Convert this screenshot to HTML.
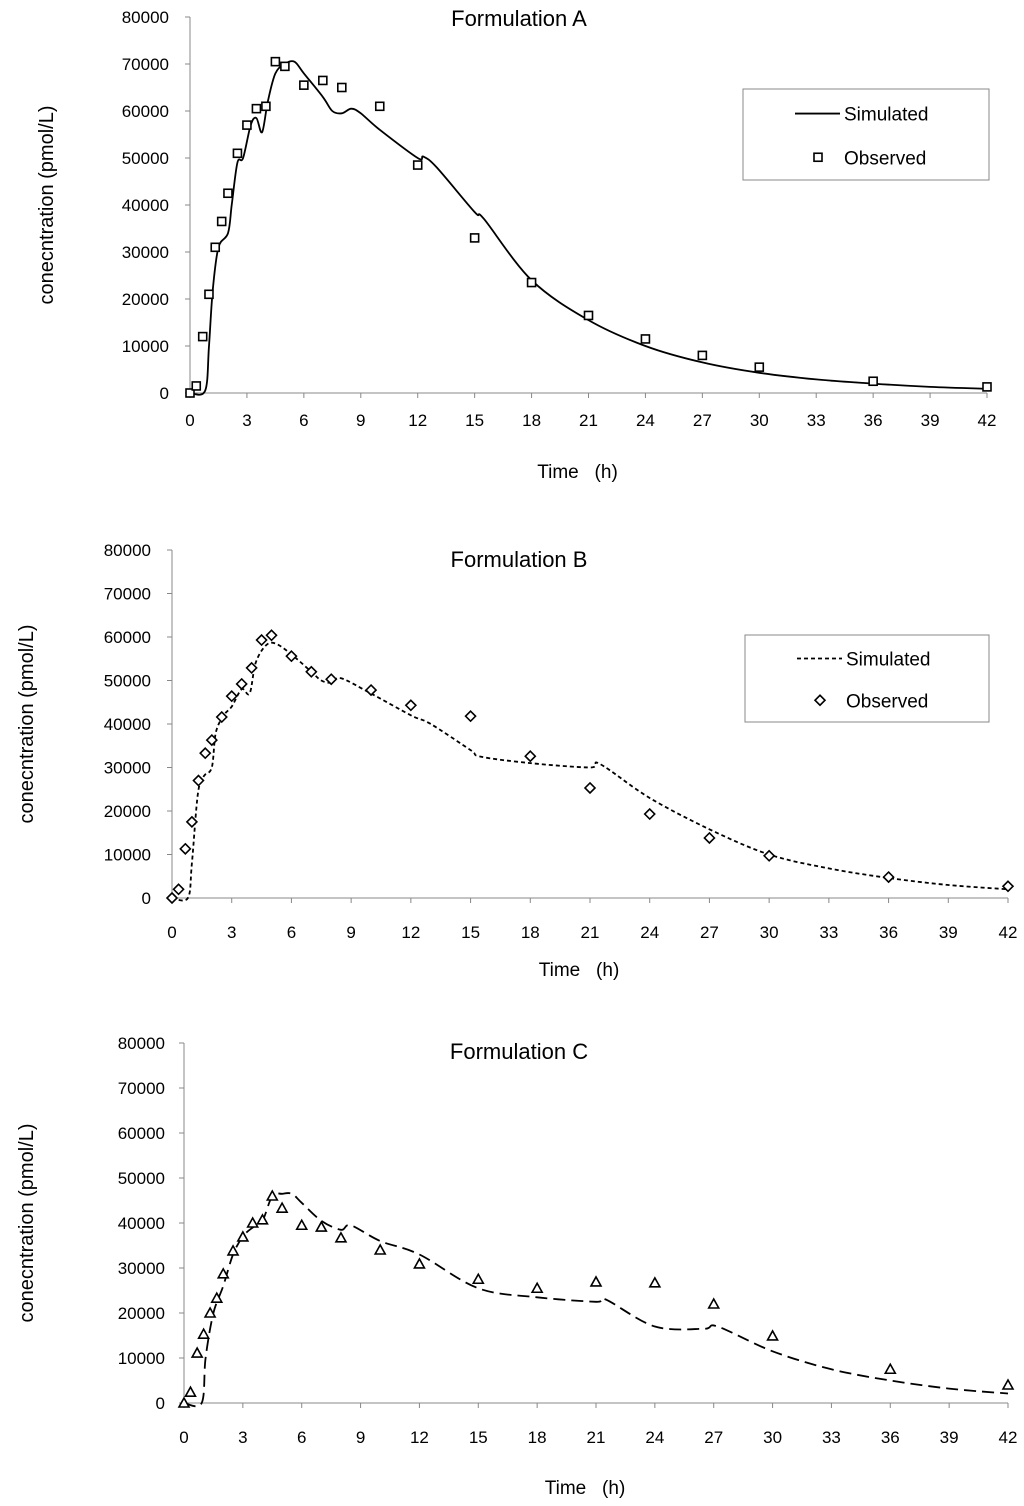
<!DOCTYPE html>
<html><head><meta charset="utf-8"><style>
html,body{margin:0;padding:0;background:#fff}
svg{display:block;font-family:"Liberation Sans",Arial,sans-serif}
</style></head><body>
<svg id="chart" width="1024" height="1506" viewBox="0 0 1024 1506" xmlns="http://www.w3.org/2000/svg"></svg>
<script>
const timesObs = [0,0.33,0.67,1,1.33,1.67,2,2.5,3,3.5,4,4.5,5,6,7,8,10,12,15,18,21,24,27,30,36,42];
const obsA = [0,1500,12000,21000,31000,36500,42500,51000,57000,60500,61000,70500,69500,65500,66500,65000,61000,48500,33000,23500,16500,11500,8000,5500,2500,1300];
const obsB = [0,2000,11300,17500,27000,33300,36300,41600,46400,49200,52900,59300,60400,55600,52000,50300,47800,44300,41800,32600,25300,19300,13800,9700,4800,2700];
const obsC = [0,2400,11100,15300,20000,23300,28700,33800,36900,40000,40700,46000,43300,39500,39100,36700,34000,30900,27500,25500,26900,26700,22000,14900,7500,4000];
const simTA = [0,0.8,1,1.2,1.5,2,2.2,2.5,2.8,3.2,3.5,3.8,4.1,4.5,5,5.5,6,7,7.5,8,8.5,9,10,12,12.3,13,15,15.5,18,21,24,27,30,33,36,39,42];
const simA = [0,500,10000,22000,31000,34000,40000,49000,50000,57000,58500,55500,62000,68000,70000,70500,68000,63000,60000,59500,60500,59500,56000,50000,50300,48000,38500,37000,24000,15500,10000,6500,4300,2900,2000,1300,900];
const simTB = [0,0.8,1,1.3,1.6,2,2.2,2.6,3,3.5,3.9,4.2,4.7,5.2,6,7,7.5,8,8.5,10,12,13,15,15.5,18,21,21.5,24,27,30,33,36,39,42];
const simB = [0,0,8000,24000,28000,30000,38000,42000,44000,48000,47000,54000,58000,58500,56000,52000,50000,49500,50500,47000,42000,40000,34000,32500,31000,30000,30800,23000,15800,10000,6800,4600,3000,2000];
const simTC = [0,0.9,1.1,1.5,2,2.5,3,3.5,4,4.5,5,5.5,6,7,8,8.5,10,12,15,18,21,21.5,24,26.5,27.2,30,33,36,39,42];
const simC = [0,0,10000,20000,26000,33000,37000,39000,40500,46000,46500,46500,44500,40500,38500,39500,36000,33000,25500,23500,22500,23000,17000,16500,17000,11500,7500,5000,3200,2100];
const yTicks = [0,10000,20000,30000,40000,50000,60000,70000,80000];
const xTicks = [0,3,6,9,12,15,18,21,24,27,30,33,36,39,42];

const svg = document.getElementById('chart');
const NS='http://www.w3.org/2000/svg';
function mk(tag, attrs, parent){const e=document.createElementNS(NS,tag);for(const k in attrs)e.setAttribute(k,attrs[k]);(parent||svg).appendChild(e);return e;}
function txt(s, attrs, parent){const e=mk('text',attrs,parent);e.textContent=s;return e;}

const panels=[
 {id:'a',title:'Formulation A',x0:190,x1:987,y0:393,y1:17,titleY:26,xlabY:478,tickY:426,ytitleX:53,ylabX:169,obs:obsA,st:simTA,sv:simA,dash:'',marker:'square',legend:{x:743,y:89,w:246,h:91}},
 {id:'b',title:'Formulation B',x0:172,x1:1008,y0:898,y1:550,titleY:567,xlabY:976,tickY:938,ytitleX:33,ylabX:151,obs:obsB,st:simTB,sv:simB,dash:'4,3',marker:'diamond',legend:{x:745,y:635,w:244,h:87}},
 {id:'c',title:'Formulation C',x0:184,x1:1008,y0:1403,y1:1043,titleY:1059,xlabY:1494,tickY:1443,ytitleX:33,ylabX:165,obs:obsC,st:simTC,sv:simC,dash:'12,6',marker:'triangle',legend:null}
];

function markerAt(g,type,x,y){
  let e;
  if(type==='square') e=mk('rect',{x:x-4,y:y-4,width:8,height:8,fill:'#fff',stroke:'#000','stroke-width':1.6},g);
  else if(type==='diamond') e=mk('polygon',{points:`${x},${y-5} ${x+5},${y} ${x},${y+5} ${x-5},${y}`,fill:'#fff',stroke:'#000','stroke-width':1.6},g);
  else e=mk('polygon',{points:`${x},${y-5} ${x+5},${y+4} ${x-5},${y+4}`,fill:'#fff',stroke:'#000','stroke-width':1.6},g);
  return e;
}

function smoothPath(pts){
  let d=`M${pts[0][0]},${pts[0][1]}`;
  for(let i=0;i<pts.length-1;i++){
    const p0=pts[Math.max(0,i-1)],p1=pts[i],p2=pts[i+1],p3=pts[Math.min(pts.length-1,i+2)];
    const c1=[p1[0]+(p2[0]-p0[0])/6,p1[1]+(p2[1]-p0[1])/6];
    const c2=[p2[0]-(p3[0]-p1[0])/6,p2[1]-(p3[1]-p1[1])/6];
    d+=` C${c1[0].toFixed(1)},${c1[1].toFixed(1)} ${c2[0].toFixed(1)},${c2[1].toFixed(1)} ${p2[0].toFixed(1)},${p2[1].toFixed(1)}`;
  }
  return d;
}

panels.forEach(p=>{
  const xs=t=>p.x0+(t/42)*(p.x1-p.x0);
  const ys=v=>p.y0-(v/80000)*(p.y0-p.y1);
  const g=mk('g',{});
  
  
  const t=txt(p.title,{x:519,y:p.titleY,'text-anchor':'middle','font-size':22},g);
  
  
  const ya=mk('line',{x1:p.x0,y1:p.y1,x2:p.x0,y2:p.y0,stroke:'#888','stroke-width':1},g);
  
  
  const xa=mk('line',{x1:p.x0,y1:p.y0,x2:p.x1,y2:p.y0,stroke:'#888','stroke-width':1},g);
  
  
  yTicks.forEach(v=>{
    mk('line',{x1:p.x0-5,y1:ys(v),x2:p.x0,y2:ys(v),stroke:'#888'},g);
    const l=txt(String(v),{x:p.ylabX,y:ys(v)+6,'text-anchor':'end','font-size':17},g);
    
    
  });
  xTicks.forEach(v=>{
    mk('line',{x1:xs(v),y1:p.y0,x2:xs(v),y2:p.y0+5,stroke:'#888'},g);
    const l=txt(String(v),{x:xs(v),y:p.tickY,'text-anchor':'middle','font-size':17},g);
    
    
  });
  const xt=txt('Time\u00a0\u00a0\u00a0(h)',{x:(p.x0+p.x1)/2-11,y:p.xlabY,'text-anchor':'middle','font-size':19},g);
  
  
  const cy=(p.y0+p.y1)/2;
  const yt=txt('conecntration (pmol/L)',{x:p.ytitleX,y:cy,'text-anchor':'middle','font-size':20,transform:`rotate(-90 ${p.ytitleX} ${cy})`},g);
  
  
  const pts=p.st.map((tt,i)=>[xs(tt),ys(p.sv[i])]);
  const line=mk('path',{d:smoothPath(pts),fill:'none',stroke:'#000','stroke-width':1.8,'stroke-dasharray':p.dash},g);
  
  
  timesObs.forEach((tt,i)=>{
    const m=markerAt(g,p.marker,xs(tt),ys(p.obs[i]));
    
    
  });
  if(p.legend){
    const L=p.legend;
    const lg=mk('g',{},g);
    
    
    mk('rect',{x:L.x,y:L.y,width:L.w,height:L.h,fill:'#fff',stroke:'#888'},lg);
    const r1=L.y+L.h*0.27, r2=L.y+L.h*0.75;
    mk('line',{x1:L.x+52,y1:r1,x2:L.x+97,y2:r1,stroke:'#000','stroke-width':1.8,'stroke-dasharray':p.dash},lg);
    txt('Simulated',{x:L.x+101,y:r1+7,'font-size':19},lg);
    markerAt(lg,p.marker,L.x+75,r2);
    txt('Observed',{x:L.x+101,y:r2+7,'font-size':19},lg);
  }
});
</script>
</body></html>
